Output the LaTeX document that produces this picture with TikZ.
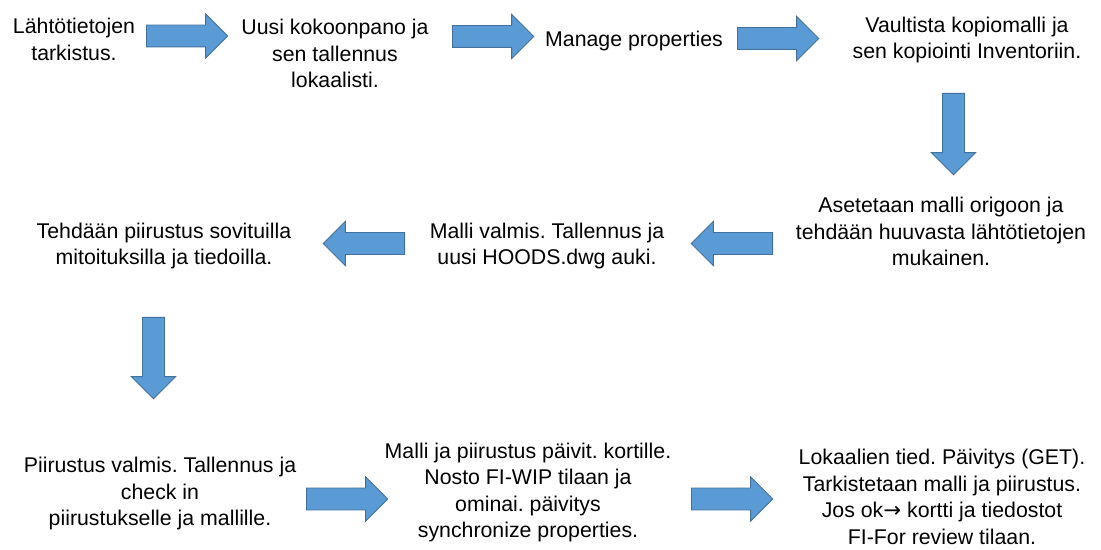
\documentclass[tikz,border=0pt]{standalone}
\usepackage{fontspec}
\setmainfont{Liberation Sans}
\newfontfamily\symfont{DejaVu Sans}
\frenchspacing
\usepackage{tikz}
\usetikzlibrary{shapes.arrows, positioning}

\definecolor{arrowfill}{HTML}{5B9BD5}
\definecolor{arrowline}{HTML}{41719C}

\tikzset{
    steptext/.style={align=center, inner sep=0pt, font=\fontsize{15.15}{18.85}\selectfont},
    blockarrow/.style={single arrow, draw=arrowline, fill=arrowfill, line width=0.7pt,
        minimum height=2.03cm, minimum width=0pt, inner xsep=0pt, inner ysep=0.2625cm,
        single arrow head extend=0.275cm, single arrow head indent=0pt, anchor=tail}
}

\begin{document}
\begin{tikzpicture}[x=0.025cm, y=-0.025cm]
                \fill[white] (0,0) rectangle (1101,550);
                \useasboundingbox (0,0) rectangle (1101,550);

                % row 1
                \node[steptext] (lahto) at (74, 39.5) {Lähtötietojen\\tarkistus.};
                \node[steptext] (kokoonpano) at (335, 53.5) {Uusi kokoonpano ja\\sen tallennus\\lokaalisti.};
                \node[steptext] (manage) at (634, 40.5) {Manage properties};
                \node[steptext] (vault) at (967, 40) {Vaultista kopiomalli ja\\sen kopiointi Inventoriin.};

                % row 2
                \node[steptext] (origo) at (941, 231.5) {Asetetaan malli origoon ja\\tehdään huuvasta lähtötietojen\\mukainen.};
                \node[steptext] (mallivalmis) at (547, 246) {Malli valmis. Tallennus ja\\uusi HOODS.dwg auki.};
                \node[steptext] (piirustus) at (164, 246) {Tehdään piirustus sovituilla\\mitoituksilla ja tiedoilla.};

                % row 3
                \node[steptext] (checkin) at (160, 493.5) {Piirustus valmis. Tallennus ja\\check in\\piirustukselle ja mallille.};
                \node[steptext] (nosto) at (528, 492.5) {Malli ja piirustus päivit. kortille.\\Nosto FI-WIP tilaan ja\\ominai. päivitys\\synchronize properties.};
                \node[steptext] (review) at (942, 497) {Lokaalien tied. Päivitys (GET).\\Tarkistetaan malli ja piirustus.\\Jos ok{\symfont →} kortti ja tiedostot\\FI-For review tilaan.};

                % block arrows, placed by their tails
                \node[blockarrow] (a1) at (146, 36) {};
                \node[blockarrow] (a2) at (452, 36.5) {};
                \node[blockarrow] (a3) at (737, 38.5) {};
                \node[blockarrow, rotate=-90] (d1) at (953.5, 93) {};
                \node[blockarrow, rotate=180] (a4) at (773, 243.5) {};
                \node[blockarrow, rotate=180] (a5) at (405, 243.5) {};
                \node[blockarrow, rotate=-90] (d2) at (153.5, 317) {};
                \node[blockarrow] (a6) at (306, 499) {};
                \node[blockarrow] (a7) at (691, 499) {};
            \end{tikzpicture}
\end{document}
